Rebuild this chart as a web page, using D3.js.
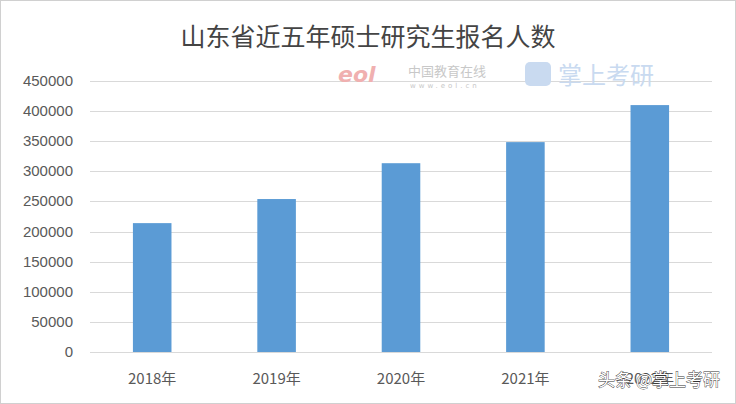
<!DOCTYPE html>
<html><head><meta charset="utf-8">
<script src="https://cdn.jsdelivr.net/npm/d3@7"></script>
<style>body{margin:0;background:#fff}svg{display:block}</style>
</head><body>
<script>
const years = ['2018年', '2019年', '2020年', '2021年', '2022年'];
const applicants = [214000, 254000, 313500, 348500, 410000];
const yTicks = [0, 50000, 100000, 150000, 200000, 250000, 300000, 350000, 400000, 450000];

const W = 736, H = 404;
const svg = d3.select('body').append('svg').attr('width', W).attr('height', H);
svg.append('rect').attr('x', 0.5).attr('y', 0.5).attr('width', W - 1).attr('height', H - 1)
  .attr('fill', '#fff').attr('stroke', '#d0d0d0');

const x = d3.scaleBand().domain(years).range([90, 712]).paddingInner(0.69).paddingOuter(0.345);
const y = d3.scaleLinear().domain([0, 450000]).range([352, 81]);

svg.append('text').attr('x', 368).attr('y', 46).attr('text-anchor', 'middle')
  .attr('font-family', 'Noto Sans CJK SC').attr('font-size', 25).attr('fill', '#444')
  .text('山东省近五年硕士研究生报名人数');

// gridlines
svg.append('g').selectAll('line').data(yTicks).join('line')
  .attr('x1', 90).attr('x2', 712)
  .attr('y1', d => Math.round(y(d)) + 0.5).attr('y2', d => Math.round(y(d)) + 0.5)
  .attr('stroke', '#d9d9d9');

// watermarks
svg.append('text').attr('x', 338).attr('y', 82).attr('font-family', 'DejaVu Sans').attr('font-weight', 'bold')
  .attr('font-style', 'italic').attr('font-size', 22).attr('fill', '#f0b0b0').text('eol');
svg.append('text').attr('x', 408).attr('y', 76).attr('font-family', 'Noto Sans CJK SC')
  .attr('font-size', 13).attr('fill', '#c8c8c8').text('中国教育在线');
svg.append('text').attr('x', 410).attr('y', 88).attr('font-family', 'DejaVu Sans')
  .attr('font-size', 7).attr('fill', '#c8c8c8').attr('letter-spacing', 3).text('www.eol.cn');
svg.append('rect').attr('x', 525).attr('y', 62).attr('width', 26).attr('height', 24).attr('rx', 5)
  .attr('fill', '#c9daf0');
svg.append('text').attr('x', 558).attr('y', 84).attr('font-family', 'Noto Sans CJK SC')
  .attr('font-size', 24).attr('fill', '#c9daf0').text('掌上考研');

// bars
svg.append('g').selectAll('rect').data(applicants).join('rect')
  .attr('x', (d, i) => x(years[i])).attr('width', x.bandwidth())
  .attr('y', d => y(d)).attr('height', d => y(0) - y(d))
  .attr('fill', '#5b9bd5');

// y axis labels
svg.append('g').selectAll('text').data(yTicks).join('text')
  .attr('x', 73).attr('y', d => y(d) + 5).attr('text-anchor', 'end')
  .attr('font-family', 'Liberation Sans').attr('font-size', 15).attr('fill', '#595959')
  .text(d => d);

// x axis labels
svg.append('g').selectAll('text').data(years).join('text')
  .attr('x', d => x(d) + x.bandwidth() / 2).attr('y', 384).attr('text-anchor', 'middle')
  .attr('font-family', 'Noto Sans CJK SC').attr('font-size', 15).attr('fill', '#595959')
  .text(d => d);

svg.append('text').attr('x', 720).attr('y', 386).attr('text-anchor', 'end')
  .attr('font-family', 'Noto Sans CJK SC').attr('font-size', 17).attr('fill', '#fff')
  .attr('stroke', '#333').attr('stroke-width', 0.8).attr('paint-order', 'stroke')
  .text('头条 @掌上考研');
</script>
</body></html>
